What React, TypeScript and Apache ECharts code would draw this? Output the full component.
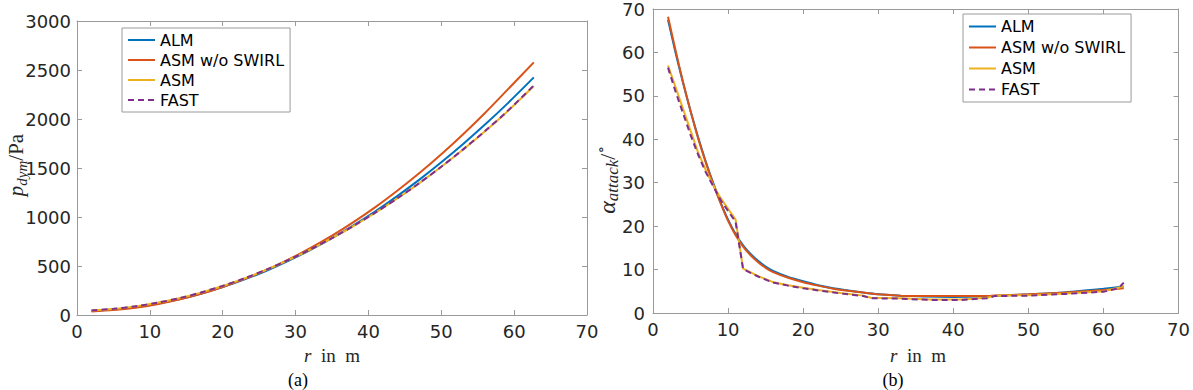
import React, { useEffect, useRef } from "react";
import * as echarts from "echarts";

// ---- data: (a) dynamic pressure ----
const R_P = [2, 5, 8, 11, 14, 17, 20, 23, 26, 29, 32, 35, 38, 41, 44, 47, 50, 53, 56, 59, 62.7];
const P_ALM = [44, 57, 80, 115, 160, 217, 284, 363, 451, 552, 663, 784, 917, 1061, 1216, 1381, 1558, 1745, 1943, 2152, 2425];
const P_ASM_NOSWIRL = [36, 50, 74, 110, 157, 216, 286, 368, 460, 565, 682, 810, 950, 1103, 1270, 1448, 1640, 1845, 2062, 2292, 2578];
const P_ASM = [46, 62, 88, 124, 170, 228, 296, 374, 462, 560, 667, 784, 910, 1046, 1191, 1346, 1512, 1688, 1875, 2072, 2337];
const P_FAST = [47, 63, 89, 125, 171, 229, 297, 375, 463, 561, 668, 785, 911, 1047, 1192, 1347, 1513, 1690, 1877, 2075, 2342];

// ---- data: (b) angle of attack ----
const R_A = [2, 3, 4, 5, 6, 7, 8, 9, 10, 11, 12, 13, 14, 15, 16, 18, 20, 22, 24, 26, 28, 30, 33, 36, 40, 45, 50, 55, 60, 62.7];
const A_ALM = [67.5, 60, 53, 46.5, 40.5, 35, 30, 25.5, 21.5, 18.2, 15.6, 13.6, 12, 10.7, 9.7, 8.3, 7.3, 6.4, 5.7, 5.2, 4.7, 4.3, 4.0, 3.8, 3.7, 3.9, 4.3, 4.8, 5.6, 6.1];
const A_ASM_NOSWIRL = [68.2, 60.5, 53.2, 46.5, 40.3, 34.8, 29.8, 25.3, 21.2, 17.9, 15.3, 13.3, 11.7, 10.4, 9.4, 8.1, 7.1, 6.3, 5.6, 5.1, 4.7, 4.3, 4.0, 3.9, 3.9, 4.0, 4.3, 4.7, 5.3, 5.7];
const R_B = [2, 3, 4, 5, 6, 7, 8, 9, 10, 11, 12, 14, 16, 18, 20, 22, 25, 28, 29, 33, 37, 41, 44.5, 45.5, 50, 55, 60, 62, 62.7];
const A_ASM = [57, 52, 47, 42, 37, 33, 29.5, 26.5, 24, 21.5, 10.2, 8.5, 7.1, 6.4, 5.8, 5.3, 4.6, 4.0, 3.5, 3.4, 3.1, 3.1, 3.5, 4.0, 4.1, 4.5, 5.0, 5.8, 6.2];
const A_FAST = [56.5, 51, 46, 41, 36.5, 32.5, 29.3, 26, 23.5, 21, 10.1, 8.4, 7.0, 6.3, 5.7, 5.2, 4.5, 3.9, 3.4, 3.3, 3.0, 3.0, 3.4, 3.9, 4.0, 4.4, 4.9, 5.7, 7.0];

const NAMES = ["ALM", "ASM w/o SWIRL", "ASM", "FAST"];
const COLORS = ["#0072BD", "#D95319", "#EDB120", "#7E2F8E"];
const X_TICKS = { min: 0, max: 70, interval: 10 };
const P_TICKS = { min: 0, max: 3000, interval: 500 };
const A_TICKS = { min: 0, max: 70, interval: 10 };

const zip = (xs: number[], ys: number[]) => xs.map((x, i) => [x, ys[i]]);

const AXIS_COLOR = "#9a9a9a";
const LABEL_COLOR = "#262626";
const SANS = "DejaVu Sans";
const SERIF = "Liberation Serif";

function makeX(grid: number, pos: "bottom" | "top") {
  return {
    type: "value",
    gridIndex: grid,
    position: pos,
    ...X_TICKS,
    axisLine: { show: true, onZero: false, lineStyle: { color: AXIS_COLOR, width: 1 } },
    axisTick: { show: true, inside: true, length: 5, lineStyle: { color: AXIS_COLOR } },
    axisLabel: {
      show: pos === "bottom",
      margin: 7,
      color: LABEL_COLOR,
      fontSize: 18,
      fontFamily: SANS,
      formatter: (v: number) => String(v),
    },
    splitLine: { show: false },
  };
}

function makeY(grid: number, pos: "left" | "right", ticks: any, margin: number) {
  return {
    type: "value",
    gridIndex: grid,
    position: pos,
    ...ticks,
    axisLine: { show: true, onZero: false, lineStyle: { color: AXIS_COLOR, width: 1 } },
    axisTick: { show: true, inside: true, length: 5, lineStyle: { color: AXIS_COLOR } },
    axisLabel: {
      show: pos === "left",
      margin,
      color: LABEL_COLOR,
      fontSize: 18,
      fontFamily: SANS,
      formatter: (v: number) => String(v),
    },
    splitLine: { show: false },
  };
}

function line(name: string, idx: number, data: number[][], xi: number, yi: number, smooth: number | boolean) {
  return {
    type: "line",
    name,
    xAxisIndex: xi,
    yAxisIndex: yi,
    data,
    symbol: "none",
    showSymbol: false,
    smooth,
    z: 2 + idx,
    lineStyle: { color: COLORS[idx], width: 2, type: idx === 3 ? [6, 4] : "solid" },
    itemStyle: { color: COLORS[idx] },
  };
}

function legend(left: number, top: number, lh: number) {
  return {
    orient: "vertical",
    left,
    top,
    data: NAMES,
    itemWidth: 27,
    itemHeight: 14,
    itemGap: 0,
    padding: [2, 6, 2, 5],
    borderColor: "#9a9a9a",
    borderWidth: 1,
    backgroundColor: "#fff",
    selectedMode: false,
    itemStyle: { opacity: 0 },
    textStyle: { color: "#000", fontSize: 16, fontFamily: SANS, lineHeight: lh },
  };
}

export default function App() {
  const ref = useRef<HTMLDivElement>(null);
  useEffect(() => {
    if (!ref.current) return;
    const chart = echarts.init(ref.current, null, { renderer: "svg" });
    const xTitle = (x: number) => ({
      type: "text",
      x,
      y: 355,
      style: {
        text: "{i|r}{n|  in  m}",
        align: "center",
        verticalAlign: "middle",
        rich: {
          i: { fontFamily: SERIF, fontStyle: "italic", fontSize: 19, fill: LABEL_COLOR },
          n: { fontFamily: SERIF, fontSize: 19, fill: LABEL_COLOR },
        },
      },
    });
    chart.setOption({
      animation: false,
      backgroundColor: "#fff",
      grid: [
        { left: 77, top: 21, width: 510, height: 294 },
        { left: 653, top: 8, width: 530, height: 305 },
      ],
      xAxis: [makeX(0, "bottom"), makeX(0, "top"), makeX(1, "bottom"), makeX(1, "top")],
      yAxis: [
        makeY(0, "left", P_TICKS, 6),
        makeY(0, "right", P_TICKS, 6),
        makeY(1, "left", A_TICKS, 8),
        makeY(1, "right", A_TICKS, 8),
      ],
      legend: [legend(122, 28, 20), legend(963, 14, 21)],
      series: [
        line(NAMES[0], 0, zip(R_P, P_ALM), 0, 0, 0.3),
        line(NAMES[1], 1, zip(R_P, P_ASM_NOSWIRL), 0, 0, 0.3),
        line(NAMES[2], 2, zip(R_P, P_ASM), 0, 0, 0.3),
        line(NAMES[3], 3, zip(R_P, P_FAST), 0, 0, 0.3),
        line(NAMES[0], 0, zip(R_A, A_ALM), 2, 2, 0.2),
        line(NAMES[1], 1, zip(R_A, A_ASM_NOSWIRL), 2, 2, 0.2),
        line(NAMES[2], 2, zip(R_B, A_ASM), 2, 2, false),
        line(NAMES[3], 3, zip(R_B, A_FAST), 2, 2, false),
      ],
      graphic: [
        xTitle(332),
        xTitle(918),
        {
          type: "text",
          x: 298,
          y: 380,
          style: { text: "(a)", fontFamily: SERIF, fontSize: 18, fill: "#000", align: "center", verticalAlign: "middle" },
        },
        {
          type: "text",
          x: 893,
          y: 380,
          style: { text: "(b)", fontFamily: SERIF, fontSize: 18, fill: "#000", align: "center", verticalAlign: "middle" },
        },
        {
          type: "text",
          x: 16,
          y: 165,
          rotation: Math.PI / 2,
          style: {
            text: "{i|p}{s|dym}{n|/Pa}",
            align: "center",
            verticalAlign: "middle",
            rich: {
              i: { fontFamily: SERIF, fontStyle: "italic", fontSize: 21, lineHeight: 26, fill: LABEL_COLOR },
              s: { fontFamily: SERIF, fontStyle: "italic", fontSize: 15, lineHeight: 26, verticalAlign: "bottom", fill: LABEL_COLOR },
              n: { fontFamily: SERIF, fontSize: 21, lineHeight: 26, fill: LABEL_COLOR },
            },
          },
        },
        {
          type: "text",
          x: 607,
          y: 180,
          rotation: Math.PI / 2,
          style: {
            text: "{i|α}{s|attack}{n|/}{u|∘}",
            align: "center",
            verticalAlign: "middle",
            rich: {
              i: { fontFamily: SERIF, fontStyle: "italic", fontSize: 24, lineHeight: 28, fill: LABEL_COLOR },
              s: { fontFamily: SERIF, fontStyle: "italic", fontSize: 17, lineHeight: 28, verticalAlign: "bottom", fill: LABEL_COLOR },
              n: { fontFamily: SERIF, fontSize: 22, lineHeight: 28, fill: LABEL_COLOR },
              u: { fontFamily: "DejaVu Serif", fontSize: 15, lineHeight: 28, verticalAlign: "top", fill: LABEL_COLOR },
            },
          },
        },
      ],
    });
    return () => chart.dispose();
  }, []);
  return (
    <div
      ref={ref}
      style={{ position: "fixed", left: 0, top: 0, width: 1193, height: 390, background: "#fff" }}
    />
  );
}
